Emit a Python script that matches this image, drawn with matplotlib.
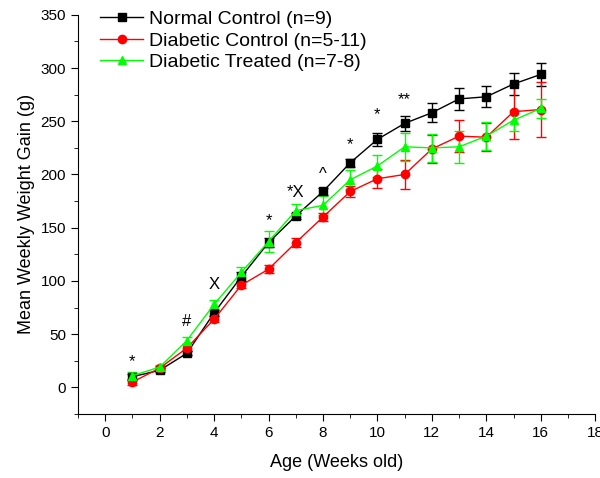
import numpy as np
import matplotlib.pyplot as plt
from matplotlib.ticker import MultipleLocator
from matplotlib.lines import Line2D

plt.rcParams['font.family'] = ['Liberation Sans', 'DejaVu Sans']

weeks = np.arange(1, 17)

normal_mean = [10, 16, 32, 70, 104, 136, 161, 184, 211, 233, 248, 258, 271, 273, 285, 294]
normal_err = [3, 2, 2, 3, 4, 4, 3, 3, 4, 6, 7, 9, 10, 10, 10, 11]

diab_mean = [5, 18, 37, 64, 96, 111, 136, 160, 184, 196, 200, 224, 236, 235, 259, 261]
diab_err = [3, 2, 3, 3, 3, 4, 4, 4, 5, 9, 14, 13, 15, 13, 26, 26]

treat_mean = [11, 19, 44, 78, 108, 137, 166, 171, 195, 208, 226, 225, 226, 236, 251, 262]
treat_err = [3, 2, 3, 4, 5, 10, 6, 9, 9, 10, 13, 13, 15, 13, 10, 9]

# significance marks: (week, height, text)
sig_x = [1, 3, 4, 6, 7, 8, 9, 10, 11]
sig_y = [24, 62, 97, 157, 183, 200, 228, 256, 270]
sig_txt = ['*', '#', 'X', '*', '*X', '^', '*', '*', '**']

fig = plt.figure(figsize=(6, 4.78), dpi=100)
ax = fig.add_axes([0.13, 0.134, 0.862, 0.835])

series = [
    (normal_mean, normal_err, 'black', 's', 'Normal Control (n=9)'),
    (diab_mean, diab_err, 'red', 'o', 'Diabetic Control (n=5-11)'),
    (treat_mean, treat_err, '#00ff00', '^', 'Diabetic Treated (n=7-8)'),
]
handles = []
for mean, err, col, mk, lab in series:
    ax.errorbar(weeks, mean, yerr=err, color=col, marker=mk, markersize=6,
                linewidth=1, elinewidth=1, capsize=3.5, capthick=1)
    handles.append(Line2D([], [], color=col, marker=mk, markersize=6,
                          linewidth=1, label=lab))

for x, y, t in zip(sig_x, sig_y, sig_txt):
    ax.text(x, y, t, ha='center', va='center', fontsize=12)

ax.set_xlim(-1, 18)
ax.set_ylim(-25, 350)
ax.xaxis.set_major_locator(MultipleLocator(2))
ax.xaxis.set_minor_locator(MultipleLocator(1))
ax.yaxis.set_major_locator(MultipleLocator(50))
ax.yaxis.set_minor_locator(MultipleLocator(25))
ax.tick_params(which='both', direction='out', labelsize=11)
ax.tick_params(which='major', length=5)
ax.tick_params(which='minor', length=3)
ax.spines['top'].set_visible(False)
ax.spines['right'].set_visible(False)

ax.set_xlabel('Age (Weeks old)', fontsize=13, labelpad=10)
ax.set_ylabel('Mean Weekly Weight Gain (g)', fontsize=13)

ax.legend(handles=handles, loc='upper left', bbox_to_anchor=(0.028, 1.03),
          frameon=False, fontsize=14, handlelength=2.2, handletextpad=0.3,
          labelspacing=0.2, borderaxespad=0)

fig.savefig('out.png', dpi=100)
